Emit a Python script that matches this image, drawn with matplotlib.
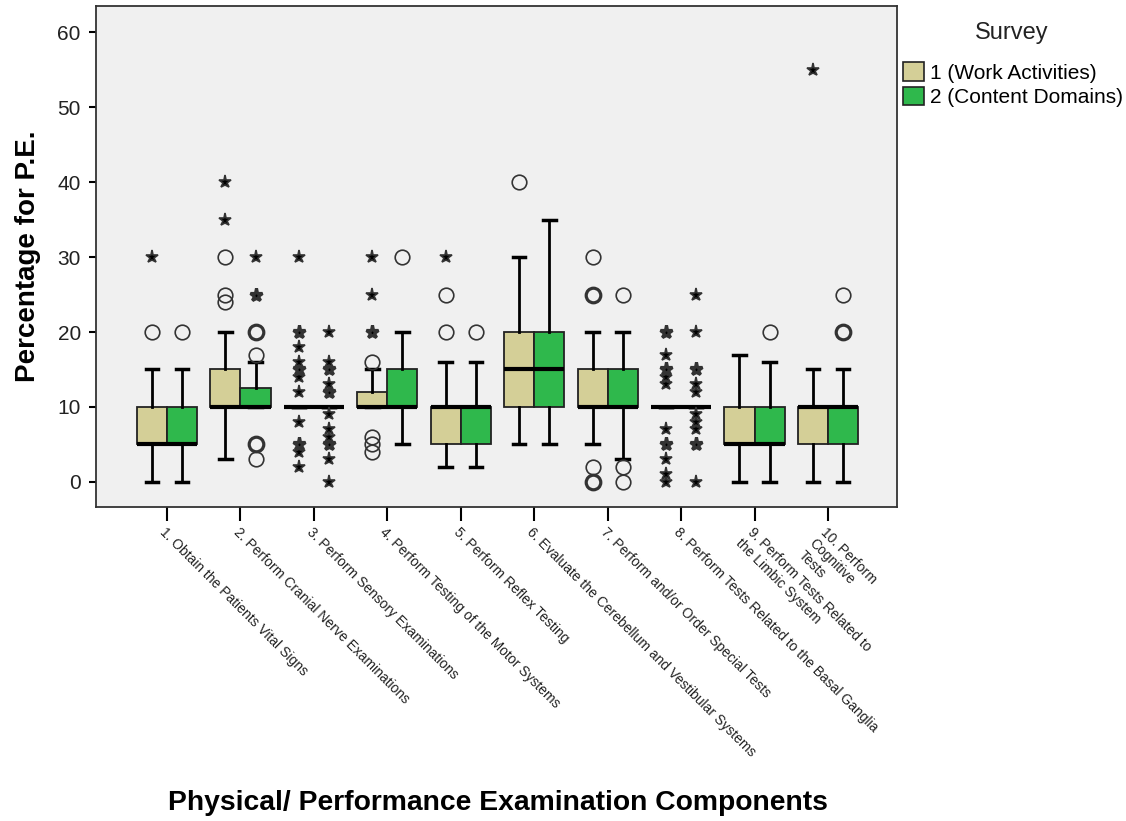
import numpy as np
import matplotlib
matplotlib.use('Agg')
import matplotlib.pyplot as plt
from matplotlib.patches import Patch

plt.rcParams['font.family'] = ['Liberation Sans', 'DejaVu Sans']

categories = ['1. Obtain the Patients Vital Signs',
              '2. Perform Cranial Nerve Examinations',
              '3. Perform Sensory Examinations',
              '4. Perform Testing of the Motor Systems',
              '5. Perform Reflex Testing',
              '6. Evaluate the Cerebellum and Vestibular Systems',
              '7. Perform and/or Order Special Tests',
              '8. Perform Tests Related to the Basal Ganglia',
              '9. Perform Tests Related to\nthe Limbic System',
              '10. Perform\nCognitive\nTests']
series_names = ['1 (Work Activities)', '2 (Content Domains)']

# survey 1 (work activities): box stats per category
s1_q1 = [5, 10, 10, 10, 5, 10, 10, 10, 5, 5]
s1_med = [5, 10, 10, 10, 10, 15, 10, 10, 5, 10]
s1_q3 = [10, 15, 10, 12, 10, 20, 15, 10, 10, 10]
s1_lo = [0, 3, 10, 10, 2, 5, 5, 10, 0, 0]
s1_hi = [15, 20, 10, 15, 16, 30, 20, 10, 17, 15]
s1_out = [[20], [24, 25, 30], [], [16, 6, 5, 4], [20, 25], [40],
          [25, 25, 30, 2, 0, 0], [], [], []]
s1_ext = [[30], [35, 40], [30, 20, 20, 18, 16, 15, 15, 14, 12, 8, 5, 5, 4, 2],
          [20, 20, 25, 30], [30], [], [],
          [20, 20, 17, 15, 15, 14, 13, 7, 5, 5, 3, 1, 0], [], [55]]

# survey 2 (content domains)
s2_q1 = [5, 10, 10, 10, 5, 10, 10, 10, 5, 5]
s2_med = [5, 10, 10, 10, 10, 15, 10, 10, 5, 10]
s2_q3 = [10, 12.5, 10, 15, 10, 20, 15, 10, 10, 10]
s2_lo = [0, 10, 10, 5, 2, 5, 3, 10, 0, 0]
s2_hi = [15, 16, 10, 20, 16, 35, 20, 10, 16, 15]
s2_out = [[20], [17, 20, 20, 5, 5, 3], [], [30], [20], [], [25, 2, 0], [], [20],
          [20, 20, 25]]
s2_ext = [[], [25, 25, 30], [20, 16, 15, 15, 13, 12, 12, 9, 7, 6, 5, 5, 3, 0],
          [], [], [], [], [25, 20, 15, 15, 13, 12, 9, 8, 7, 5, 5, 0], [], []]

colors = ['#d4cf97', '#2fb84c']

fig = plt.figure(figsize=(11.26, 8.21), dpi=100)
ax = fig.add_axes([0.0853, 0.3825, 0.7113, 0.6102])
ax.set_facecolor('#f0f0f0')

x = np.arange(1, len(categories) + 1)
w = 0.41
series = [(s1_q1, s1_med, s1_q3, s1_lo, s1_hi, s1_out, s1_ext),
          (s2_q1, s2_med, s2_q3, s2_lo, s2_hi, s2_out, s2_ext)]

for k, (q1, med, q3, lo, hi, outl, ext) in enumerate(series):
    pos = x + (k - 0.5) * w
    stats = [dict(q1=q1[i], med=med[i], q3=q3[i], whislo=lo[i], whishi=hi[i])
             for i in range(len(categories))]
    ax.bxp(stats, positions=pos, widths=w, capwidths=0.17, patch_artist=True,
           showfliers=False,
           boxprops=dict(facecolor=colors[k], edgecolor='#222222', linewidth=1.3),
           medianprops=dict(color='black', linewidth=3),
           whiskerprops=dict(color='black', linewidth=2),
           capprops=dict(color='black', linewidth=2.5),
           manage_ticks=False, zorder=2)
    # circles = outliers, stars = extreme values; repeated values drawn heavier
    for i in range(len(categories)):
        for vals, mk, ms, fc in [(outl[i], 'o', 10.5, 'none'), (ext[i], '*', 9.5, 'black')]:
            if not vals:
                continue
            u, c = np.unique(vals, return_counts=True)
            for val, cnt in zip(u, c):
                ax.plot(pos[i], val, marker=mk, ms=ms, mfc=fc, mec='#333333',
                        mew=1.2 if cnt == 1 else 2.3, ls='none', zorder=3)

ax.set_xlim(0.033, 10.94)
ax.set_ylim(-3.33, 63.47)
ax.set_yticks([0, 10, 20, 30, 40, 50, 60])
ax.tick_params(axis='y', labelsize=15, length=5, width=1.5, pad=6, labelcolor='#222222')
ax.set_xticks(x)
ax.set_xticklabels(categories, rotation=-45, ha='left', va='top',
                   rotation_mode='anchor', fontsize=10, color='#222222')
ax.tick_params(axis='x', length=10, width=1.5, pad=3)
for s in ax.spines.values():
    s.set_linewidth(1.3)
    s.set_color('#333333')

ax.set_ylabel('Percentage for P.E.', fontsize=20, fontweight='bold')
ax.yaxis.set_label_coords(-0.069, 0.5)
fig.text(0.442, 1 - 803 / 821, 'Physical/ Performance Examination Components',
         fontsize=20.3, fontweight='bold', ha='center', va='center')

fig.text(1012 / 1126, 1 - 33 / 821, 'Survey', fontsize=17, ha='center', va='center',
         color='#222222')
handles = [Patch(facecolor=colors[k], edgecolor='#222222', linewidth=1.2)
           for k in range(2)]
leg = fig.legend(handles, series_names, loc='upper left',
                 bbox_to_anchor=(0.798, 1 - 58 / 821), frameon=False, fontsize=15,
                 handlelength=1.0, handleheight=1.0, borderaxespad=0,
                 handletextpad=0.3, labelspacing=0.2, borderpad=0.2)

fig.savefig('out.png', dpi=100, facecolor='white')
